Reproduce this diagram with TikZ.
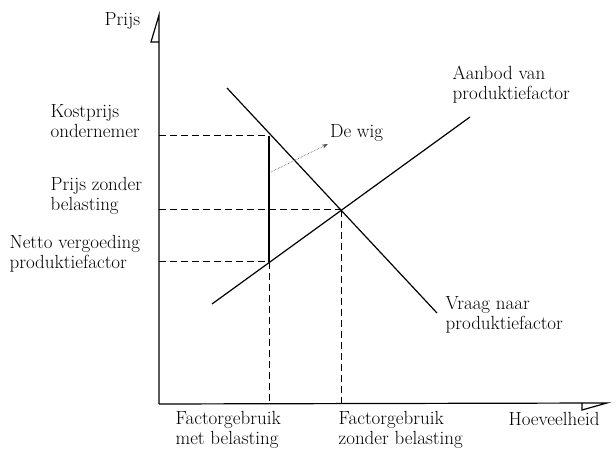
\documentclass[tikz,border=0pt]{standalone}
\usetikzlibrary{arrows.meta}
\begin{document}
\begin{tikzpicture}[x=10pt,y=10pt,line width=1.2pt,
    tekst/.style={font=\fontsize{19}{20}\selectfont,inner sep=0pt,align=left,anchor=west},
    hulplijn/.style={line width=1pt,dash pattern=on 7pt off 4pt},
    wigpijl/.style={line width=0.6pt,black!70,densely dotted,-{Stealth[length=6pt,width=4pt]}}]
    \useasboundingbox (0,0) rectangle (61.6,45.4);

    % Assen
    \coordinate (O) at (15.9,5.0);
    \coordinate (ytop) at (15.9,43.9);
    \coordinate (xend) at (60.7,5.1);
    \draw (O) -- (ytop) -- (15.1,41.2) -- (15.9,41.2);
    \draw (O) -- (xend) -- (58.2,4.4) -- (58.2,5.0);
    \node[tekst] (prijs) at (10.4,43.3) {Prijs};
    \node[tekst] (hoeveel) at (50.8,3.5) {Hoeveelheid};

    % Vraag en aanbod
    \coordinate (vraagA) at (22.7,36.6);
    \coordinate (vraagB) at (43.7,14.1);
    \coordinate (aanbodA) at (21.2,15.0);
    \coordinate (aanbodB) at (47.0,33.7);
    \draw (vraagA) -- (vraagB);
    \draw (aanbodA) -- (aanbodB);
    \node[tekst] (vraag) at (44.5,13.9) {Vraag naar\\produktiefactor};
    \node[tekst] (aanbod) at (45.2,36.9) {Aanbod van\\produktiefactor};

    % Snijpunten
    \coordinate (K) at (26.9,31.8);
    \coordinate (E) at (34.1,24.4);
    \coordinate (N) at (26.9,19.2);

    % Hulplijnen
    \draw[hulplijn] (15.9,31.8) -- (K);
    \draw[hulplijn] (15.9,24.4) -- (E);
    \draw[hulplijn] (15.9,19.2) -- (N);
    \draw[hulplijn] (N) -- (26.9,5.0);
    \draw[hulplijn] (E) -- (34.1,5.0);

    % De wig
    \draw[line width=2.6pt] (K) -- (N);
    \coordinate (wigvoet) at (27.1,28.2);
    \node[tekst,anchor=base west,inner sep=1.5pt] (wig) at (32.8,31.6) {De wig};
    \draw[wigpijl] (wigvoet) -- (wig.south west);

    % Labels links
    \node[tekst] (kost) at (5.0,33.3) {Kostprijs\\ondernemer};
    \node[tekst] (zonder) at (5.0,25.8) {Prijs zonder\\belasting};
    \node[tekst] (netto) at (0.9,20.0) {Netto vergoeding\\produktiefactor};

    % Labels onder
    \node[tekst] (metbel) at (17.5,2.45) {Factorgebruik\\met belasting};
    \node[tekst] (zonderbel) at (33.8,2.45) {Factorgebruik\\zonder belasting};
\end{tikzpicture}
\end{document}
